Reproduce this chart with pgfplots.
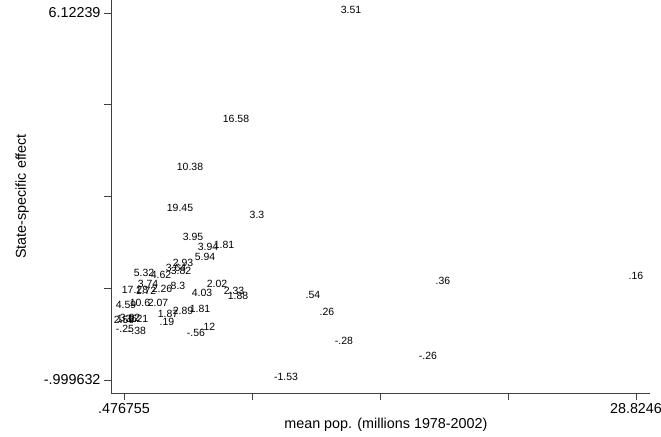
\documentclass[border=0pt]{standalone}
\usepackage{pgfplots}
\pgfplotsset{compat=1.18}
\usepackage{pgfplotstable}
\usepackage{fontspec}
\setmainfont{Liberation Sans}
\pgfplotstableread{
x y lab
13.045 6.12239 3.51
6.678 3.997 16.58
4.131 3.066 10.38
3.577 2.270 19.45
7.841 2.134 3.3
4.297 1.708 3.95
5.128 1.513 3.94
6.013 1.552 1.81
4.961 1.319 5.94
3.743 1.203 2.93
1.584 1.009 5.32
2.525 0.970 4.62
3.356 1.106 3.64
3.633 1.049 3.82
1.086 0.679 17.28
1.805 0.796 3.74
2.581 0.699 2.26
1.695 0.660 1.72
3.467 0.757 8.3
4.795 0.621 4.03
5.626 0.796 2.02
6.567 0.660 2.33
6.789 0.563 1.88
0.588 0.388 4.59
1.363 0.427 10.6
2.359 0.427 2.07
2.913 0.213 1.87
2.858 0.058 .19
3.743 0.271 2.89
4.685 0.310 1.81
5.128 -0.039 .12
4.463 -0.155 -.56
0.477 0.097 2.56
0.643 0.116 1.36
0.809 0.136 3.02
1.252 0.116 1.21
0.532 -0.078 -.25
1.196 -0.117 -.38
10.941 0.582 .54
11.716 0.252 .26
12.657 -0.311 -.28
18.139 0.854 .36
17.308 -0.602 -.26
28.8246 0.951 .16
9.446 -0.999632 -1.53
}\datatable
\begin{document}
\begin{tikzpicture}[x=1bp,y=1bp]
\path[use as bounding box] (0,0) rectangle (661,437);
\begin{axis}[
  at={(111bp,44bp)}, anchor=south west,
  scale only axis, width=539bp, height=393bp,
  xmin=-0.243, xmax=29.600, ymin=-1.252, ymax=6.375,
  axis x line*=bottom, axis y line*=left,
  axis line style={-, line width=0.9pt, black!75},
  tick style={line width=0.9pt, black!75},
  tick align=outside, major tick length=7bp,
  xtick={0.476755,7.563716,14.650678,21.737639,28.8246},
  xticklabels={.476755,,,,28.8246},
  ytick={-0.999632,0.780873,2.561378,4.341884,6.12239},
  yticklabels={-.999632,,,,6.12239},
  tick label style={font=\fontsize{14.4}{16}\selectfont},
  xlabel={mean pop. (millions 1978-2002)},
  ylabel={State-specific effect},
  label style={font=\fontsize{14.4}{16}\selectfont},
  xlabel style={at={(axis description cs:0.510,-0.081)}, anchor=center},
  ylabel style={at={(axis description cs:-0.165,0.5)}, anchor=center},
  clip=false,
]
\addplot[draw=none, mark=none, nodes near coords, point meta=explicit symbolic,
  nodes near coords style={anchor=center, yshift=3.5bp, inner sep=0pt, font=\fontsize{10.5}{12}\selectfont}]
  table[x=x, y=y, meta=lab] {\datatable};
\end{axis}
\end{tikzpicture}
\end{document}
